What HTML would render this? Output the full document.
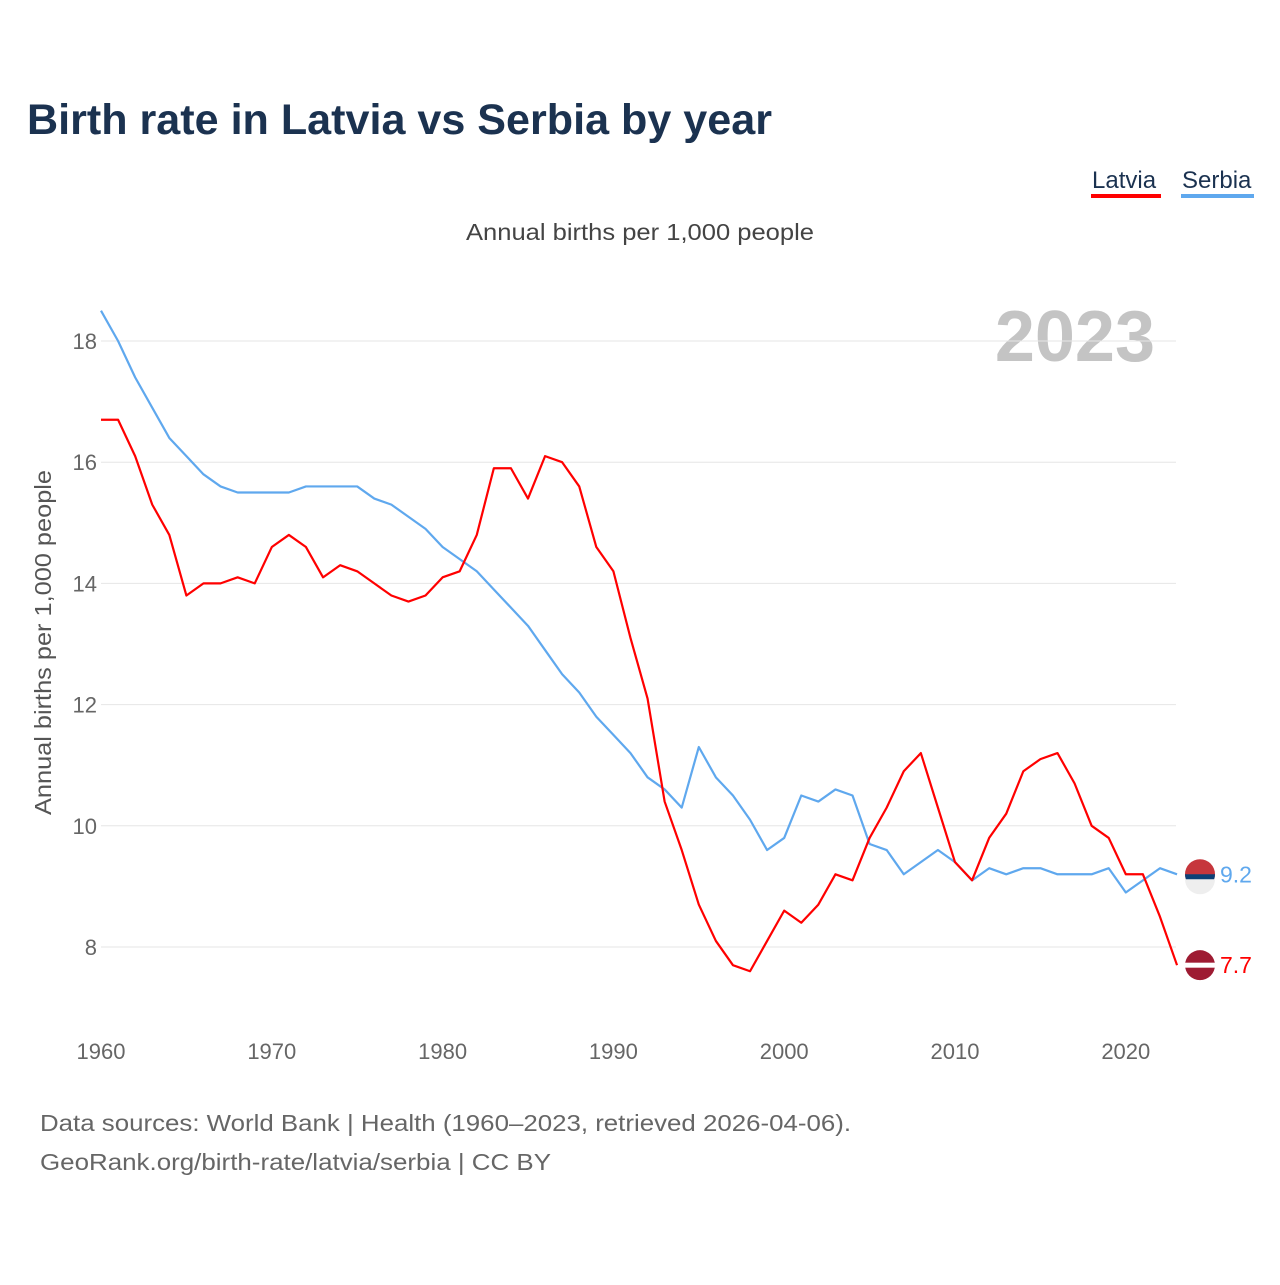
<!DOCTYPE html>
<html><head><meta charset="utf-8"><style>
body{margin:0;background:#fff;font-family:"Liberation Sans",sans-serif}
</style></head><body>
<svg width="1280" height="1280" xmlns="http://www.w3.org/2000/svg" id="chart" font-family="Liberation Sans, sans-serif">
<text x="27" y="134" font-size="43" font-weight="bold" fill="#1b3250" textLength="745" lengthAdjust="spacingAndGlyphs">Birth rate in Latvia vs Serbia by year</text>
<g><text x="1092" y="188" font-size="24" fill="#1b3250">Latvia</text><rect x="1091" y="194" width="70" height="4" fill="#f00"/></g>
<g><text x="1182" y="188" font-size="24" fill="#1b3250">Serbia</text><rect x="1181" y="194" width="73" height="4" fill="#5fa8ee"/></g>
<text x="466" y="240" font-size="23" fill="#444" textLength="348" lengthAdjust="spacingAndGlyphs">Annual births per 1,000 people</text>
<text x="1155" y="361" text-anchor="end" font-size="72" font-weight="bold" fill="#c4c4c4">2023</text>
<text transform="translate(51,815) rotate(-90)" font-size="23" fill="#555" textLength="345" lengthAdjust="spacingAndGlyphs">Annual births per 1,000 people</text>
<g id="grid"></g><g id="lines"></g>
<text x="40" y="1131" font-size="23" fill="#666" textLength="811" lengthAdjust="spacingAndGlyphs">Data sources: World Bank | Health (1960–2023, retrieved 2026-04-06).</text>
<text x="40" y="1170" font-size="23" fill="#666" textLength="511" lengthAdjust="spacingAndGlyphs">GeoRank.org/birth-rate/latvia/serbia | CC BY</text>
</svg>
<script>
const years=[];for(let y=1960;y<=2023;y++)years.push(y);
const latvia=[16.7,16.7,16.1,15.3,14.8,13.8,14.0,14.0,14.1,14.0,14.6,14.8,14.6,14.1,14.3,14.2,14.0,13.8,13.7,13.8,14.1,14.2,14.8,15.9,15.9,15.4,16.1,16.0,15.6,14.6,14.2,13.1,12.1,10.4,9.6,8.7,8.1,7.7,7.6,8.1,8.6,8.4,8.7,9.2,9.1,9.8,10.3,10.9,11.2,10.3,9.4,9.1,9.8,10.2,10.9,11.1,11.2,10.7,10.0,9.8,9.2,9.2,8.5,7.7];
const serbia=[18.5,18.0,17.4,16.9,16.4,16.1,15.8,15.6,15.5,15.5,15.5,15.5,15.6,15.6,15.6,15.6,15.4,15.3,15.1,14.9,14.6,14.4,14.2,13.9,13.6,13.3,12.9,12.5,12.2,11.8,11.5,11.2,10.8,10.6,10.3,11.3,10.8,10.5,10.1,9.6,9.8,10.5,10.4,10.6,10.5,9.7,9.6,9.2,9.4,9.6,9.4,9.1,9.3,9.2,9.3,9.3,9.2,9.2,9.2,9.3,8.9,9.1,9.3,9.2];
const yTicks=[8,10,12,14,16,18];
const xTicks=[1960,1970,1980,1990,2000,2010,2020];
const NS="http://www.w3.org/2000/svg";
const X=y=>101+(y-1960)*17.08, Y=v=>947-(v-8)*60.6;
const grid=document.getElementById('grid'),lines=document.getElementById('lines');
function mk(tag,at,parent){const e=document.createElementNS(NS,tag);for(const k in at)e.setAttribute(k,at[k]);parent.appendChild(e);return e;}
yTicks.forEach(t=>{
 const l=mk('line',{x1:101,x2:1176,y1:Y(t),y2:Y(t),stroke:'#e6e6e6'},grid);
 
 
 const tx=mk('text',{x:97,y:Y(t)+8,'text-anchor':'end','font-size':22,fill:'#666'},grid);tx.textContent=t;
 
 
});
xTicks.forEach(t=>{
 const tx=mk('text',{x:X(t),y:1059,'text-anchor':'middle','font-size':22,fill:'#666'},grid);tx.textContent=t;
 
 
});
function line(data,color,name){
 const p=mk('polyline',{points:data.map((v,i)=>X(years[i])+','+Y(v)).join(' '),fill:'none',stroke:color,'stroke-width':2.2,'stroke-linejoin':'round'},lines);
 
 
}
line(serbia,'#5fa8ee','serbia-line');
line(latvia,'#f00','latvia-line');
function endLabel(data,color,name){
 const v=data[data.length-1],cx=1200,cy=Y(v);
 const g=mk('g',{},lines);
 
 
 mk('circle',{cx:cx,cy:cy,r:15,fill:name.includes('latvia')?'#9e1b32':'#c6363c'},g);
 if(name.includes('latvia'))mk('rect',{x:cx-15,y:cy-2.5,width:30,height:5,fill:'#fff'},g);
 else{mk('path',{d:`M${cx-15},${cy} h30 a15,15 0 0 1 -30,0z`,fill:'#0c4076'},g);mk('path',{d:`M${cx-15},${cy+5} h30 a15,15 0 0 1 -30,0z`,fill:'#eee'},g);}
 const t=mk('text',{x:1220,y:cy+8,'font-size':23,fill:color},g);t.textContent=v.toFixed(1);
}
endLabel(serbia,'#5fa8ee','serbia-end-label');
endLabel(latvia,'#f00','latvia-end-label');
</script>
</body></html>
